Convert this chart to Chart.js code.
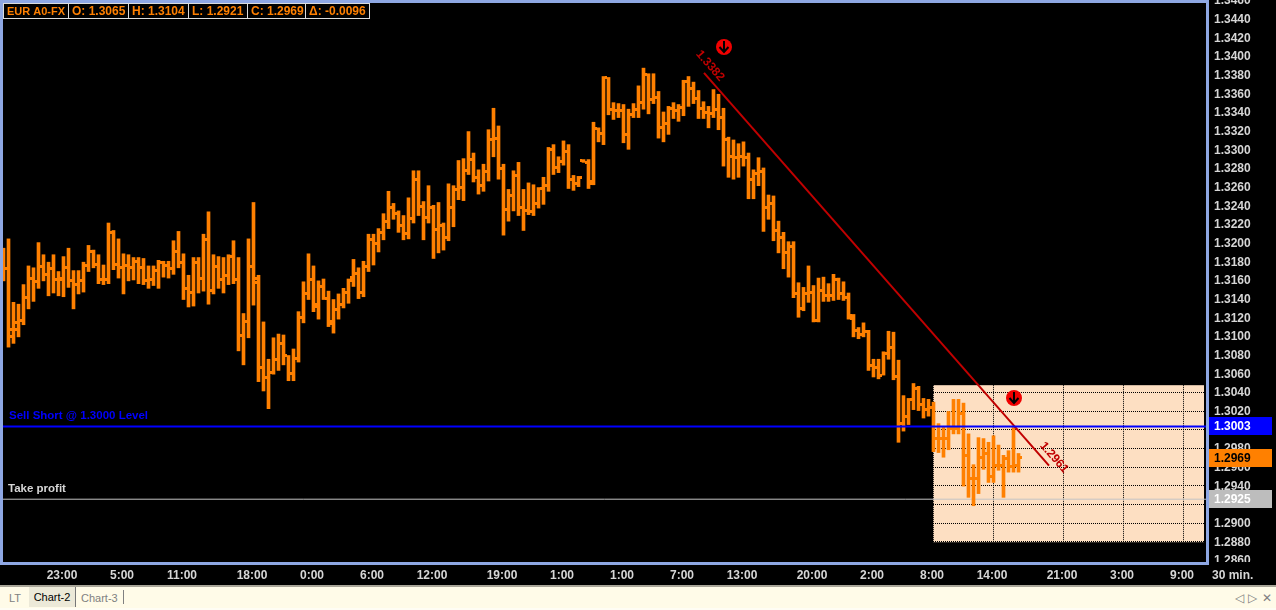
<!DOCTYPE html>
<html>
<head>
<meta charset="utf-8">
<title>EUR A0-FX</title>
<script src="https://cdn.jsdelivr.net/npm/chart.js@4/dist/chart.umd.min.js"></script>
<style>
html, body { margin: 0; padding: 0; background: #000; overflow: hidden; }
#wrap { position: relative; width: 1276px; height: 610px; }
#chart { position: absolute; left: 0; top: 0; }
#tabs { position: absolute; left: 0; top: 585px; width: 1276px; height: 23px; background: #fffbe8; border-top: 2px solid #a8a598; border-bottom: 0; font: 11px "Liberation Sans", sans-serif; color: #808080; }
#foot { position: absolute; left: 0; top: 608px; width: 1276px; height: 2px; background: #fffdf4; }
#tabs span { position: absolute; top: 5px; }
#tabs .on { left: 29px; top: 0; width: 46px; height: 20px; line-height: 21px; text-align: center; background: #ece9d8; border-right: 1px solid #777; color: #000; }
#tabs .sep { left: 123px; top: 3px; width: 1px; height: 14px; background: #808080; }
#tabs .nav { font-size: 12px; top: 4px; }
</style>
</head>
<body>
<div id="wrap">
  <canvas id="chart" width="1276" height="585"></canvas>
  <div id="tabs">
    <span style="left:9px">LT</span>
    <span class="on">Chart-2</span>
    <span style="left:81px">Chart-3</span>
    <span class="sep"></span>
    <span class="nav" style="left:1235px">◁</span>
    <span class="nav" style="left:1248px">▷</span>
    <span class="nav" style="left:1262px">✕</span>
  </div>
  <div id="foot"></div>
</div>
<script>
const highs = [
1.3194,1.3204,1.3136,1.3134,1.3155,1.3175,1.3173,1.3200,1.3187,1.3179,
1.3187,1.3169,1.3185,1.3194,1.3170,1.3170,1.3179,1.3197,1.3192,1.3187,
1.3176,1.3221,1.3213,1.3204,1.3188,1.3187,1.3184,1.3184,1.3183,1.3175,
1.3175,1.3181,1.3180,1.3180,1.3202,1.3212,1.3188,1.3165,1.3184,1.3184,
1.3209,1.3233,1.3187,1.3185,1.3184,1.3187,1.3202,1.3184,1.3124,1.3204,
1.3243,1.3165,1.3115,1.3075,1.3098,1.3102,1.3101,1.3079,1.3086,1.3126,
1.3158,1.3188,1.3175,1.3159,1.3161,1.3148,1.3139,1.3145,1.3151,1.3161,
1.3182,1.3173,1.3180,1.3209,1.3209,1.3215,1.3231,1.3255,1.3242,1.3234,
1.3229,1.3248,1.3277,1.3277,1.3244,1.3261,1.3240,1.3243,1.3221,1.3263,
1.3261,1.3288,1.3290,1.3319,1.3296,1.3278,1.3284,1.3321,1.3344,1.3325,
1.3284,1.3257,1.3277,1.3286,1.3257,1.3264,1.3262,1.3259,1.3270,1.3302,
1.3305,1.3292,1.3309,1.3305,1.3272,1.3271,1.3289,1.3289,1.3329,1.3323,
1.3378,1.3377,1.3350,1.3349,1.3348,1.3343,1.3349,1.3368,1.3387,1.3381,
1.3381,1.3362,1.3340,1.3346,1.3350,1.3348,1.3374,1.3378,1.3372,1.3363,
1.3351,1.3346,1.3364,1.3359,1.3344,1.3313,1.3310,1.3306,1.3308,1.3296,
1.3278,1.3291,1.3280,1.3251,1.3250,1.3223,1.3211,1.3201,1.3201,1.3157,
1.3152,1.3175,1.3154,1.3162,1.3163,1.3156,1.3166,1.3162,1.3158,1.3146,
1.3123,1.3109,1.3114,1.3106,1.3075,1.3075,1.3083,1.3105,1.3104,1.3074,
1.3036,1.3033,1.3049,1.3046,1.3033,1.3032,1.3029,1.3006,1.3002,1.3019,
1.3032,1.3032,1.3028,1.2995,1.2962,1.2991,1.2990,1.2986,1.2993,1.2983,
1.2972,1.2977,1.3002,1.2974
];
const lows = [
1.3159,1.3088,1.3092,1.3099,1.3112,1.3129,1.3137,1.3151,1.3159,1.3143,
1.3146,1.3143,1.3142,1.3152,1.3129,1.3145,1.3147,1.3169,1.3173,1.3156,
1.3155,1.3156,1.3171,1.3162,1.3145,1.3159,1.3160,1.3156,1.3155,1.3151,
1.3154,1.3151,1.3163,1.3162,1.3166,1.3173,1.3139,1.3131,1.3132,1.3146,
1.3148,1.3134,1.3145,1.3151,1.3146,1.3155,1.3156,1.3084,1.3069,1.3098,
1.3133,1.3051,1.3041,1.3022,1.3059,1.3063,1.3069,1.3052,1.3052,1.3072,
1.3114,1.3139,1.3126,1.3118,1.3139,1.3110,1.3103,1.3118,1.3130,1.3135,
1.3153,1.3140,1.3142,1.3169,1.3176,1.3190,1.3203,1.3215,1.3225,1.3211,
1.3203,1.3204,1.3221,1.3229,1.3203,1.3221,1.3183,1.3189,1.3192,1.3202,
1.3217,1.3246,1.3245,1.3273,1.3265,1.3252,1.3255,1.3266,1.3292,1.3268,
1.3208,1.3223,1.3234,1.3229,1.3213,1.3230,1.3229,1.3237,1.3241,1.3255,
1.3273,1.3275,1.3283,1.3258,1.3256,1.3260,1.3286,1.3258,1.3262,1.3308,
1.3305,1.3337,1.3332,1.3334,1.3307,1.3300,1.3334,1.3334,1.3343,1.3338,
1.3349,1.3312,1.3308,1.3316,1.3333,1.3330,1.3336,1.3346,1.3349,1.3333,
1.3333,1.3323,1.3334,1.3321,1.3282,1.3270,1.3268,1.3270,1.3282,1.3247,
1.3247,1.3261,1.3212,1.3225,1.3202,1.3189,1.3172,1.3163,1.3141,1.3120,
1.3127,1.3136,1.3115,1.3115,1.3137,1.3137,1.3138,1.3139,1.3138,1.3118,
1.3099,1.3097,1.3099,1.3063,1.3056,1.3054,1.3058,1.3075,1.3053,1.2986,
1.2998,1.3005,1.3021,1.3020,1.3012,1.3014,1.2976,1.2975,1.2970,1.2978,
1.2995,1.2995,1.2939,1.2927,1.2918,1.2931,1.2957,1.2943,1.2943,1.2956,
1.2927,1.2954,1.2954,1.2954
];
const opens = [
1.3185,1.3172,1.3099,1.3107,1.3117,1.3141,1.3162,1.3158,1.3174,1.3166,
1.3172,1.3161,1.3160,1.3173,1.3159,1.3155,1.3159,1.3175,1.3190,1.3177,
1.3161,1.3160,1.3211,1.3177,1.3173,1.3176,1.3173,1.3180,1.3173,1.3159,
1.3160,1.3170,1.3179,1.3175,1.3172,1.3190,1.3179,1.3151,1.3147,1.3179,
1.3162,1.3203,1.3149,1.3174,1.3160,1.3165,1.3185,1.3161,1.3100,1.3115,
1.3174,1.3162,1.3066,1.3055,1.3061,1.3075,1.3092,1.3079,1.3060,1.3076,
1.3120,1.3145,1.3160,1.3131,1.3153,1.3140,1.3113,1.3128,1.3134,1.3146,
1.3163,1.3167,1.3146,1.3174,1.3203,1.3199,1.3211,1.3223,1.3238,1.3231,
1.3218,1.3210,1.3226,1.3268,1.3239,1.3227,1.3238,1.3214,1.3218,1.3205,
1.3238,1.3257,1.3259,1.3277,1.3289,1.3270,1.3261,1.3276,1.3311,1.3312,
1.3279,1.3235,1.3250,1.3272,1.3238,1.3234,1.3233,1.3242,1.3258,1.3261,
1.3300,1.3281,1.3287,1.3298,1.3268,1.3263,1.3288,1.3286,1.3265,1.3322,
1.3317,1.3377,1.3343,1.3342,1.3342,1.3316,1.3337,1.3343,1.3350,1.3380,
1.3353,1.3356,1.3323,1.3328,1.3344,1.3342,1.3345,1.3373,1.3365,1.3354,
1.3344,1.3339,1.3338,1.3343,1.3334,1.3310,1.3292,1.3291,1.3292,1.3291,
1.3268,1.3274,1.3276,1.3238,1.3242,1.3213,1.3205,1.3189,1.3196,1.3145,
1.3129,1.3145,1.3146,1.3117,1.3149,1.3143,1.3143,1.3160,1.3145,1.3141,
1.3122,1.3106,1.3102,1.3105,1.3068,1.3066,1.3058,1.3081,1.3088,1.3056,
1.3006,1.3014,1.3032,1.3044,1.3027,1.3021,1.3023,1.2990,1.2990,1.2990,
1.3001,1.3001,1.3017,1.2972,1.2947,1.2947,1.2970,1.2974,1.2949,1.2961,
1.2961,1.2969,1.2960,1.2961
];
const closes = [
1.3172,1.3107,1.3114,1.3117,1.3141,1.3162,1.3158,1.3174,1.3166,1.3172,
1.3161,1.3162,1.3173,1.3159,1.3155,1.3159,1.3175,1.3190,1.3177,1.3161,
1.3160,1.3211,1.3177,1.3173,1.3176,1.3173,1.3180,1.3173,1.3159,1.3160,
1.3170,1.3179,1.3175,1.3172,1.3190,1.3179,1.3151,1.3147,1.3179,1.3162,
1.3203,1.3149,1.3174,1.3160,1.3165,1.3185,1.3161,1.3100,1.3115,1.3174,
1.3157,1.3066,1.3055,1.3061,1.3075,1.3092,1.3079,1.3060,1.3076,1.3120,
1.3145,1.3160,1.3134,1.3153,1.3140,1.3115,1.3128,1.3134,1.3146,1.3159,
1.3167,1.3146,1.3174,1.3203,1.3199,1.3211,1.3223,1.3238,1.3231,1.3218,
1.3210,1.3226,1.3268,1.3239,1.3227,1.3238,1.3214,1.3218,1.3205,1.3238,
1.3257,1.3259,1.3277,1.3289,1.3270,1.3261,1.3276,1.3311,1.3312,1.3279,
1.3235,1.3250,1.3272,1.3238,1.3234,1.3233,1.3242,1.3258,1.3261,1.3300,
1.3281,1.3287,1.3298,1.3268,1.3263,1.3270,1.3286,1.3263,1.3322,1.3317,
1.3377,1.3343,1.3342,1.3342,1.3316,1.3337,1.3343,1.3350,1.3380,1.3353,
1.3356,1.3323,1.3328,1.3344,1.3342,1.3345,1.3373,1.3365,1.3354,1.3344,
1.3339,1.3338,1.3343,1.3334,1.3310,1.3292,1.3291,1.3292,1.3291,1.3268,
1.3274,1.3276,1.3238,1.3242,1.3213,1.3205,1.3189,1.3196,1.3145,1.3129,
1.3145,1.3146,1.3117,1.3149,1.3143,1.3143,1.3160,1.3145,1.3141,1.3119,
1.3106,1.3102,1.3105,1.3068,1.3066,1.3058,1.3081,1.3088,1.3056,1.3006,
1.3014,1.3032,1.3044,1.3027,1.3021,1.3023,1.2990,1.2990,1.2990,1.3001,
1.3001,1.3017,1.2972,1.2947,1.2947,1.2970,1.2974,1.2949,1.2961,1.2961,
1.2969,1.2960,1.2961,1.2970
];

const timeTickBars = [12, 24, 36, 50, 62, 74, 86, 100, 112, 124, 136, 148, 162, 174, 186, 198, 212, 224, 236];
const timeTickLabels = ["23:00", "5:00", "11:00", "18:00", "0:00", "6:00", "12:00", "19:00", "1:00", "1:00", "7:00", "13:00", "20:00", "2:00", "8:00", "14:00", "21:00", "3:00", "9:00"];
const priceTicks = [1.3460, 1.3440, 1.3420, 1.3400, 1.3380, 1.3360, 1.3340, 1.3320, 1.3300, 1.3280, 1.3260, 1.3240, 1.3220, 1.3200, 1.3180, 1.3160, 1.3140, 1.3120, 1.3100, 1.3080, 1.3060, 1.3040, 1.3020, 1.3000, 1.2980, 1.2960, 1.2940, 1.2920, 1.2900, 1.2880, 1.2860];

const trendBars = [140.1, 209.1];
const trendPrices = [1.3382, 1.2961];
const arrowBars = [144, 202];
const arrowPrices = [1.3410, 1.3033];
const sellLevel = 1.3003;
const profitLevel = 1.2925;
const lastClose = 1.2969;
const sessionStartBar = 186;
const sessionEndBar = 240.1;
const sessionTop = 1.30472;
const sessionBottom = 1.2880;
const headerCells = ["EUR A0-FX", "O: 1.3065", "H: 1.3104", "L: 1.2921", "C: 1.2969", "Δ: -0.0096"];

const ORANGE = "#ff8000";
const FRAME = "#8ea7e3";
const TICK_TEXT = "#d6d6d6";
const FONT = '"Liberation Sans", sans-serif';

// OHLC side ticks: 3px tall stubs, offset either side of the 3px stem
function tickImage(side) {
  const c = document.createElement("canvas");
  c.width = 7; c.height = 3;
  const g = c.getContext("2d");
  g.fillStyle = ORANGE;
  g.fillRect(side < 0 ? 0 : 5, 0, 2, 3);
  return c;
}

function arrowImage() {
  const c = document.createElement("canvas");
  c.width = 18; c.height = 18;
  const g = c.getContext("2d");
  g.fillStyle = "#f00000";
  g.beginPath(); g.arc(9, 9, 8, 0, Math.PI * 2); g.fill();
  g.strokeStyle = "#000";
  g.lineWidth = 2;
  g.beginPath();
  g.moveTo(9, 3); g.lineTo(9, 13);
  g.moveTo(4.5, 9); g.lineTo(9, 14); g.lineTo(13.5, 9);
  g.stroke();
  return c;
}

const barIdx = highs.map((_, i) => i);

const overlay = {
  id: "overlay",
  beforeDatasetsDraw(chart) {
    const { ctx, scales: { x, y } } = chart;
    const l = Math.round(x.getPixelForValue(sessionStartBar) - 0.5), r = x.getPixelForValue(sessionEndBar);
    const t = y.getPixelForValue(sessionTop), b = y.getPixelForValue(sessionBottom);
    ctx.save();
    ctx.fillStyle = "#fddfc2";
    ctx.fillRect(l, t, r - l, b - t + 1);
    ctx.strokeStyle = "#000";
    ctx.lineWidth = 1;
    ctx.setLineDash([1, 1]);
    priceTicks.forEach(v => {
      if (v > sessionTop || v < sessionBottom - 1e-6) return;
      const py = Math.round(y.getPixelForValue(v)) + 0.5;
      ctx.beginPath(); ctx.moveTo(l, py); ctx.lineTo(r, py); ctx.stroke();
    });
    timeTickBars.forEach(k => {
      if (k < sessionStartBar) return;
      const px = Math.round(x.getPixelForValue(k) - 0.5) + 0.5;
      ctx.beginPath(); ctx.moveTo(px, t); ctx.lineTo(px, b); ctx.stroke();
    });
    ctx.restore();
    ctx.imageSmoothingEnabled = false;
  },
  afterDatasetsDraw(chart) {
    const { ctx, scales: { x, y } } = chart;
    ctx.save();
    ctx.textBaseline = "middle";

    // frame round the plot
    ctx.fillStyle = FRAME;
    ctx.fillRect(0, 0, 1209, 3);
    ctx.fillRect(0, 0, 3, 565);
    ctx.fillRect(1206, 0, 3, 565);
    ctx.fillRect(0, 562, 1209, 3);
    // hides the foot of the lowest price label
    ctx.fillStyle = "#000";
    ctx.fillRect(1209, 562, 67, 5);

    // header box
    const cellEdges = [3, 68, 128, 188, 247, 305, 369];
    ctx.fillStyle = "#000";
    ctx.fillRect(3, 3, 366, 15);
    ctx.strokeStyle = "#dcdcdc";
    ctx.lineWidth = 1;
    ctx.strokeRect(3.5, 3.5, 366, 15);
    headerCells.forEach((txt, i) => {
      if (i > 0) {
        ctx.beginPath(); ctx.moveTo(cellEdges[i] + 0.5, 3); ctx.lineTo(cellEdges[i] + 0.5, 18); ctx.stroke();
      }
      ctx.font = (i === 0 ? "bold 11px " : "bold 12px ") + FONT;
      ctx.fillStyle = ORANGE;
      ctx.fillText(txt, cellEdges[i] + 4, 11.5);
    });

    // notes on the levels
    ctx.font = "bold 11.5px " + FONT;
    ctx.fillStyle = "#0000ff";
    ctx.fillText("Sell Short @ 1.3000 Level", 9, y.getPixelForValue(sellLevel) - 11);
    ctx.fillStyle = "#d6d6d6";
    ctx.fillText("Take profit", 8, y.getPixelForValue(profitLevel) - 10);

    // price tags on the axis
    const tags = [
      [sellLevel, "#0000ff", "#ffffff"],
      [lastClose, ORANGE, "#000000"],
      [profitLevel, "#bdbdbd", "#ffffff"]
    ];
    ctx.font = "bold 12px " + FONT;
    tags.forEach(([v, bg, fg]) => {
      const py = y.getPixelForValue(v);
      ctx.fillStyle = bg;
      ctx.fillRect(1209, Math.round(py) - 9, 63, 18);
      ctx.fillStyle = fg;
      ctx.fillText(v.toFixed(4), 1214, Math.round(py) + 0.5);
    });

    // trend line end values, turned along the line
    ctx.fillStyle = "#c00000";
    ctx.textAlign = "center";
    const angle = 48.8 * Math.PI / 180;
    const labelOffset = [[6, -7], [5, -8]];
    trendPrices.forEach((v, i) => {
      const px = x.getPixelForValue(trendBars[i]) + labelOffset[i][0];
      const py = y.getPixelForValue(v) + labelOffset[i][1];
      ctx.save();
      ctx.translate(px, py);
      ctx.rotate(angle);
      ctx.fillText(v.toFixed(4), 0, 0);
      ctx.restore();
    });
    ctx.textAlign = "left";

    // bar interval, under the price axis
    ctx.fillStyle = TICK_TEXT;
    ctx.fillText("30 min.", 1212, 576);
    ctx.restore();
  }
};

new Chart(document.getElementById("chart").getContext("2d"), {
  type: "bar",
  plugins: [overlay],
  data: {
    datasets: [
      {
        type: "bar",
        label: "High-Low",
        data: barIdx.map(i => ({ x: i, y: [lows[i], highs[i]] })),
        backgroundColor: ORANGE,
        barThickness: 3,
        borderWidth: 0,
        order: 6
      },
      {
        type: "line",
        label: "Open",
        data: barIdx.map(i => ({ x: i, y: opens[i] })),
        showLine: false,
        pointStyle: tickImage(-1),
        order: 5
      },
      {
        type: "line",
        label: "Close",
        data: barIdx.map(i => ({ x: i, y: closes[i] })),
        showLine: false,
        pointStyle: tickImage(1),
        order: 4
      },
      {
        type: "line",
        label: "Take profit",
        data: [{ x: -0.1, y: profitLevel }, { x: 240.5, y: profitLevel }],
        borderColor: "#c4c4c4",
        borderWidth: 1,
        pointRadius: 0,
        order: 7
      },
      {
        type: "line",
        label: "Sell level",
        data: [{ x: -0.1, y: sellLevel }, { x: 240.5, y: sellLevel }],
        borderColor: "#0000ff",
        borderWidth: 2,
        pointRadius: 0,
        order: 2
      },
      {
        type: "line",
        label: "Trend",
        data: trendBars.map((b, i) => ({ x: b, y: trendPrices[i] })),
        borderColor: "#c00000",
        borderWidth: 2,
        pointRadius: 0,
        order: 3
      },
      {
        type: "line",
        label: "Signal",
        data: arrowBars.map((b, i) => ({ x: b, y: arrowPrices[i] })),
        showLine: false,
        pointStyle: arrowImage(),
        order: 1
      }
    ]
  },
  options: {
    responsive: false,
    devicePixelRatio: 1,
    animation: false,
    events: [],
    layout: { autoPadding: false, padding: { left: 3, top: 3, right: 0, bottom: 0 } },
    plugins: { legend: { display: false }, tooltip: { enabled: false } },
    scales: {
      x: {
        type: "linear",
        offset: false,
        min: -0.1,
        max: 240.5,
        grid: { display: false, drawTicks: false },
        border: { display: false },
        afterFit(s) { s.height = 23; s.paddingLeft = 0; s.paddingRight = 0; },
        afterBuildTicks(s) { s.ticks = timeTickBars.map(v => ({ value: v })); },
        ticks: {
          autoSkip: false,
          maxRotation: 0,
          padding: 6,
          labelOffset: -1.5,
          color: TICK_TEXT,
          font: { family: "Liberation Sans", size: 12, weight: "bold" },
          callback: v => timeTickLabels[timeTickBars.indexOf(v)]
        }
      },
      y: {
        type: "linear",
        position: "right",
        min: 1.28577,
        max: 1.34568,
        grid: { display: false, drawTicks: false },
        border: { display: false },
        afterFit(s) { s.width = 70; s.paddingTop = 0; s.paddingBottom = 0; },
        afterBuildTicks(s) { s.ticks = priceTicks.map(v => ({ value: v })); },
        ticks: {
          autoSkip: false,
          padding: 8,
          labelOffset: 1,
          crossAlign: "near",
          color: TICK_TEXT,
          font: { family: "Liberation Sans", size: 12, weight: "bold" },
          callback: v => v.toFixed(4)
        }
      }
    }
  }
});
</script>
</body>
</html>
